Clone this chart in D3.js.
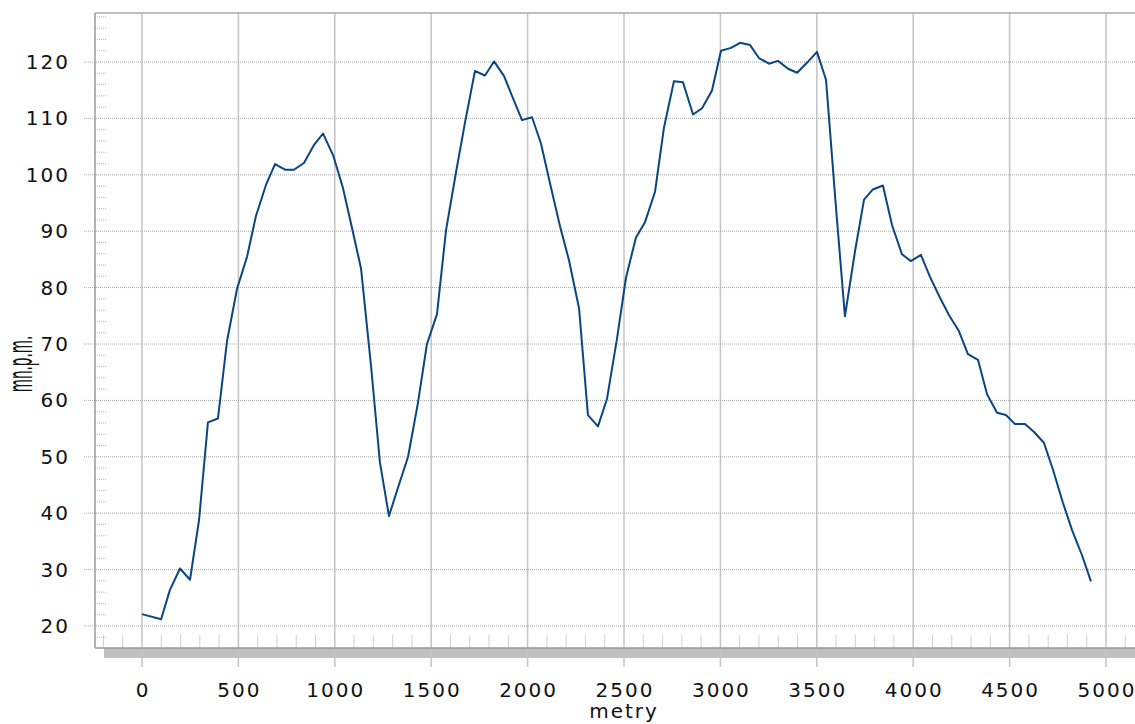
<!DOCTYPE html>
<html>
<head>
<meta charset="UTF-8">
<style>
    body { margin: 0; background: #fff; }
    text { font-family: "DejaVu Sans", sans-serif; fill: #111; }
</style>
</head>
<body>
<svg></svg>
<script src="https://d3js.org/d3.v7.min.js"></script>
<script>
    // profile: distance (m) and elevation (m n.p.m.)
    let distance = [0, 99, 145, 197, 249, 296, 342, 394, 441, 493, 545, 591, 643, 690, 742, 788, 840, 892, 939, 991,
        1042, 1089, 1136, 1188, 1234, 1281, 1333, 1380, 1431, 1478, 1530, 1577, 1629, 1675, 1727, 1779, 1826, 1878, 1924, 1971,
        2023, 2069, 2121, 2168, 2215, 2267, 2313, 2365, 2412, 2464, 2510, 2562, 2609, 2661, 2707, 2759, 2806, 2858, 2905, 2956,
        3003, 3055, 3102, 3154, 3200, 3252, 3299, 3351, 3398, 3450, 3501, 3548, 3600, 3646, 3698, 3745, 3791, 3843, 3890, 3942,
        3988, 4040, 4087, 4139, 4186, 4237, 4284, 4336, 4383, 4435, 4481, 4528, 4580, 4627, 4678, 4725, 4777, 4824, 4876, 4922];
    let elevation = [22.1, 21.2, 26.4, 30.2, 28.2, 38.8, 56.1, 56.8, 70.5, 79.8, 85.5, 92.7, 98.2, 101.9, 100.9, 100.9, 102.1, 105.3, 107.3, 103.5,
        97.7, 90.6, 83.4, 66.1, 49.0, 39.5, 45.1, 50.0, 59.5, 70.0, 75.3, 90.2, 100.5, 109.2, 118.4, 117.6, 120.1, 117.5, 113.6, 109.7,
        110.2, 105.6, 97.8, 90.9, 84.8, 76.3, 57.4, 55.4, 60.3, 71.0, 81.7, 88.9, 91.6, 97.0, 108.3, 116.6, 116.4, 110.7, 111.8, 114.9,
        122.0, 122.5, 123.4, 123.0, 120.7, 119.7, 120.2, 118.8, 118.1, 119.9, 121.8, 116.8, 94.0, 74.9, 86.4, 95.6, 97.4, 98.1, 91.1, 85.9,
        84.7, 85.8, 81.9, 78.2, 75.1, 72.3, 68.2, 67.2, 61.1, 57.8, 57.4, 55.8, 55.8, 54.4, 52.5, 47.7, 41.8, 37.0, 32.5, 27.9];
    let xTicks = [0, 500, 1000, 1500, 2000, 2500, 3000, 3500, 4000, 4500, 5000];
    let yTicks = [20, 30, 40, 50, 60, 70, 80, 90, 100, 110, 120];

    let width = 1135, height = 724;
    let plotLeft = 95, plotTop = 13, plotRight = 1135, plotBottom = 648;

    let svg = d3.select("svg")
        .attr("width", width)
        .attr("height", height);

    let x = d3.scaleLinear().domain([0, 5000]).range([142, 1106]);
    let y = d3.scaleLinear().domain([20, 120]).range([626, 62]);

    let xMin = x.invert(plotLeft), xMax = x.invert(plotRight);
    let yMin = y.invert(plotBottom), yMax = y.invert(plotTop);

    // grey band under the plot
    svg.append("rect")
        .attr("x", 104).attr("y", plotBottom)
        .attr("width", plotRight - 104).attr("height", 10)
        .attr("fill", "#c0c0c0");

    // minor x ticks every 100 m
    let minorX = d3.range(Math.ceil(xMin / 100) * 100, xMax, 100).filter(d => d % 500 != 0);
    svg.append("g").selectAll("line")
        .data(minorX)
        .join("line")
        .attr("x1", d => x(d)).attr("x2", d => x(d))
        .attr("y1", 635).attr("y2", plotBottom)
        .attr("stroke", "#d0d0d0")
        .attr("stroke-width", 1);

    // minor y ticks every 2 m
    let minorY = d3.range(Math.ceil(yMin / 2) * 2, yMax, 2).filter(d => d % 10 != 0);
    svg.append("g").selectAll("line")
        .data(minorY)
        .join("line")
        .attr("x1", plotLeft).attr("x2", 106)
        .attr("y1", d => y(d)).attr("y2", d => y(d))
        .attr("stroke", "#b8b8b8")
        .attr("stroke-dasharray", "1,1");

    // vertical grid
    svg.append("g").selectAll("line")
        .data(xTicks)
        .join("line")
        .attr("x1", d => x(d)).attr("x2", d => x(d))
        .attr("y1", plotTop).attr("y2", 667)
        .attr("stroke", "#c4c4c4")
        .attr("stroke-width", 1.5);

    // horizontal grid (dotted)
    svg.append("g").selectAll("line")
        .data(yTicks)
        .join("line")
        .attr("x1", 84).attr("x2", plotRight)
        .attr("y1", d => y(d)).attr("y2", d => y(d))
        .attr("stroke", "#a8a8a8")
        .attr("stroke-dasharray", "1,1");

    // frame
    svg.append("line")
        .attr("x1", plotLeft).attr("x2", plotRight).attr("y1", plotTop).attr("y2", plotTop)
        .attr("stroke", "#aaa").attr("stroke-width", 1.5);
    svg.append("line")
        .attr("x1", plotLeft).attr("x2", plotLeft).attr("y1", plotTop).attr("y2", plotBottom)
        .attr("stroke", "#999").attr("stroke-width", 1.5);
    svg.append("line")
        .attr("x1", plotLeft).attr("x2", plotRight).attr("y1", plotBottom).attr("y2", plotBottom)
        .attr("stroke", "#999").attr("stroke-width", 1.5);

    // profile line
    let line = d3.line()
        .x((d, i) => x(distance[i]))
        .y(d => y(d));

    svg.append("path")
        .datum(elevation)
        .attr("fill", "none")
        .attr("stroke", "#0b4682")
        .attr("stroke-width", 2)
        .attr("stroke-linejoin", "round")
        .attr("d", line);

    // tick labels
    svg.append("g").selectAll("text")
        .data(yTicks)
        .join("text")
        .attr("x", 70)
        .attr("y", d => y(d) + 7)
        .attr("text-anchor", "end")
        .attr("font-size", 20)
        .attr("letter-spacing", 2)
        .text(d => d);

    svg.append("g").selectAll("text")
        .data(xTicks)
        .join("text")
        .attr("x", d => x(d) + 1)
        .attr("y", 697)
        .attr("text-anchor", "middle")
        .attr("font-size", 20)
        .attr("letter-spacing", 2)
        .text(d => d);

    // axis titles
    svg.append("text")
        .attr("x", 624)
        .attr("y", 718)
        .attr("text-anchor", "middle")
        .attr("font-size", 20)
        .attr("letter-spacing", 2)
        .text("metry");

    svg.append("text")
        .attr("transform", "translate(32,364) rotate(-90) scale(0.4,1)")
        .attr("text-anchor", "middle")
        .attr("font-size", 34)
        .text("mn.p.m.");
</script>
</body>
</html>
